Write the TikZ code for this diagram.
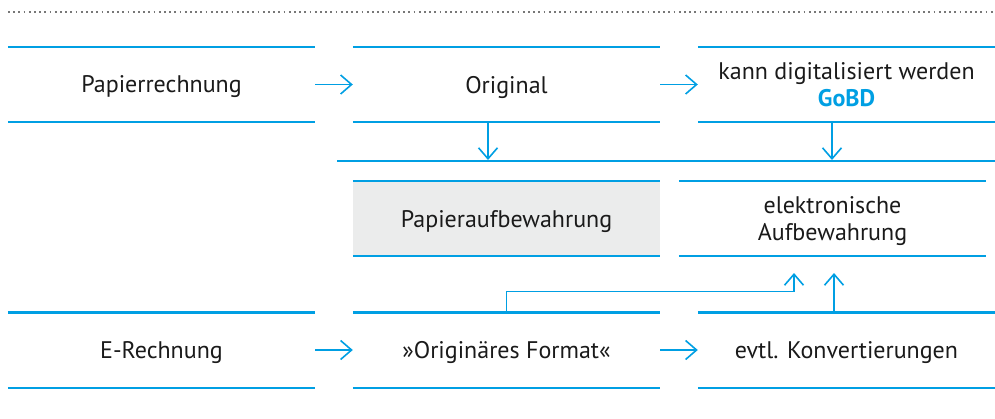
\documentclass[tikz,border=0pt]{standalone}
\usepackage{fontspec}
\setmainfont{PT Sans}
\usetikzlibrary{arrows.meta}
\definecolor{accent}{HTML}{009FE3}
\definecolor{panelgray}{HTML}{EBECEC}
\definecolor{ink}{HTML}{1A1A1A}
\definecolor{dots}{HTML}{777777}
\tikzset{
  x=1pt, y=-1pt,
  cell/.style={rectangle, inner sep=0pt, minimum height=75pt, align=center,
    text depth=0pt, text=ink, font=\fontsize{24}{27}\selectfont},
  wide/.style={minimum width=307pt},
  topline/.style={draw=accent, line width=2.6pt},
  botline/.style={draw=accent, line width=1.7pt},
  flow/.style={draw=accent, line width=1.6pt,
    -{Straight Barb[length=11pt,width=19pt,line width=1.6pt]}},
}
\newcommand{\rules}[1]{%
  \draw[topline] (#1.north west) -- (#1.north east);
  \draw[botline] (#1.south west) -- (#1.south east);}
\begin{document}
\begin{tikzpicture}
\useasboundingbox (0,0) rectangle (995,418);

% separator
\draw[dots, line width=1.8pt, dash pattern=on 1.8pt off 3.4pt]
  (8,12) -- (995,12);

% first row: paper invoice
\node[cell, wide] (paper) at (161.5,84.5) {Papierrechnung};
\node[cell, wide] (orig) at (506.5,84.5) {Original};
\node[cell, minimum width=297pt] (digi) at (846.5,84.5)
  {kann digitalisiert werden\\\textcolor{accent}{\bfseries GoBD}};
\rules{paper} \rules{orig} \rules{digi}
\draw[flow] (paper.east) -- (orig.west);
\draw[flow] (orig.east) -- (digi.west);

% collecting bar
\coordinate (barL) at (337,161);
\coordinate (barR) at (995,161);
\draw[topline] (barL) -- (barR);
\coordinate (d1) at (488,160);
\coordinate (d2) at (832,160);
\draw[flow] (d1 |- orig.south) -- (d1);
\draw[flow] (d2 |- digi.south) -- (d2);

% second row: archiving
\node[cell, wide, fill=panelgray] (parch) at (506.5,218.5) {Papieraufbewahrung};
\node[cell, wide] (earch) at (832.5,218.5) {elektronische\\Aufbewahrung};
\rules{parch} \rules{earch}

% third row: electronic invoice
\node[cell, wide] (einv) at (161.5,350) {E-Rechnung};
\node[cell, wide] (fmt) at (506.5,350) {»Originäres Format«};
\node[cell, minimum width=297pt] (conv) at (846.5,350) {evtl. Konvertierungen};
\rules{einv} \rules{fmt} \rules{conv}
\draw[flow] (einv.east) -- (fmt.west);
\draw[flow] (fmt.east) -- (conv.west);

% routes up into electronic archiving
\coordinate (u1) at (794,273);
\coordinate (u2) at (834,273);
\draw[flow] (fmt.north) -- ++(0,-21) -| (u1);
\draw[flow] (u2 |- conv.north) -- (u2);
\end{tikzpicture}
\end{document}
